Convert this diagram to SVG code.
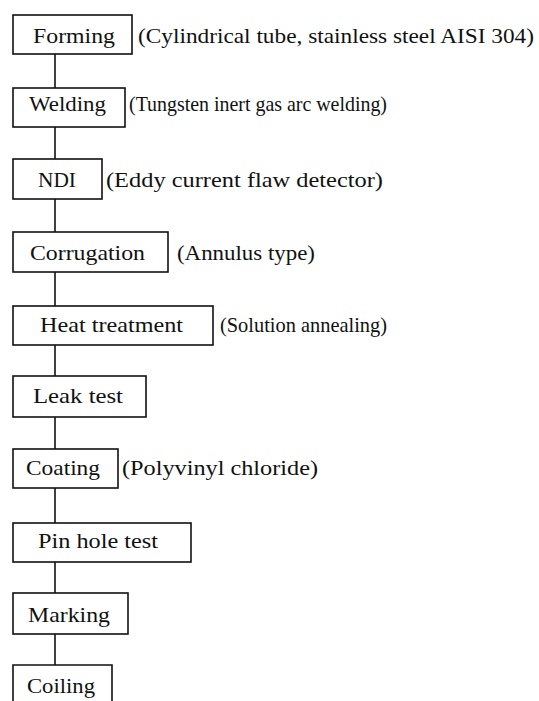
<svg xmlns="http://www.w3.org/2000/svg" width="539" height="701" viewBox="0 0 539 701">
<style>
.box{fill:#fff;stroke:#111;stroke-width:1.6}
line{stroke:#111;stroke-width:1.6}
text{font-family:"Liberation Serif","Times New Roman",serif;font-size:22px;fill:#111}
</style>
<rect width="539" height="701" fill="#fff"/>
<g id="connectors">
<line x1="55" y1="54" x2="55" y2="88"/>
<line x1="55" y1="127" x2="55" y2="159"/>
<line x1="55" y1="199" x2="55" y2="232"/>
<line x1="55" y1="272" x2="55" y2="306"/>
<line x1="55" y1="345" x2="55" y2="376"/>
<line x1="55" y1="417" x2="55" y2="449"/>
<line x1="55" y1="488" x2="55" y2="523"/>
<line x1="55" y1="562" x2="55" y2="593"/>
<line x1="55" y1="634" x2="55" y2="665"/>
</g>
<g id="forming">
<rect class="box" x="13" y="15" width="119" height="39"/>
<text x="33" y="43" textLength="82" lengthAdjust="spacingAndGlyphs">Forming</text>
<text x="138" y="43" textLength="396" lengthAdjust="spacingAndGlyphs">(Cylindrical tube, stainless steel AISI 304)</text>
</g>
<g id="welding">
<rect class="box" x="13" y="88" width="112" height="39"/>
<text x="29" y="111" textLength="77" lengthAdjust="spacingAndGlyphs">Welding</text>
<text x="129" y="111" textLength="258" lengthAdjust="spacingAndGlyphs">(Tungsten inert gas arc welding)</text>
</g>
<g id="ndi">
<rect class="box" x="13" y="159" width="89" height="40"/>
<text x="38" y="187" textLength="38" lengthAdjust="spacingAndGlyphs">NDI</text>
<text x="106" y="187" textLength="277" lengthAdjust="spacingAndGlyphs">(Eddy current flaw detector)</text>
</g>
<g id="corrugation">
<rect class="box" x="13" y="232" width="155" height="40"/>
<text x="30" y="260" textLength="115" lengthAdjust="spacingAndGlyphs">Corrugation</text>
<text x="177" y="260" textLength="138" lengthAdjust="spacingAndGlyphs">(Annulus type)</text>
</g>
<g id="heat-treatment">
<rect class="box" x="13" y="306" width="200" height="39"/>
<text x="40" y="332" textLength="143" lengthAdjust="spacingAndGlyphs">Heat treatment</text>
<text x="220" y="332" textLength="167" lengthAdjust="spacingAndGlyphs">(Solution annealing)</text>
</g>
<g id="leak-test">
<rect class="box" x="13" y="376" width="133" height="41"/>
<text x="33" y="403" textLength="90" lengthAdjust="spacingAndGlyphs">Leak test</text>
</g>
<g id="coating">
<rect class="box" x="13" y="449" width="105" height="39"/>
<text x="26" y="475" textLength="74" lengthAdjust="spacingAndGlyphs">Coating</text>
<text x="122" y="475" textLength="196" lengthAdjust="spacingAndGlyphs">(Polyvinyl chloride)</text>
</g>
<g id="pin-hole-test">
<rect class="box" x="13" y="523" width="178" height="39"/>
<text x="38" y="548" textLength="120" lengthAdjust="spacingAndGlyphs">Pin hole test</text>
</g>
<g id="marking">
<rect class="box" x="13" y="593" width="115" height="41"/>
<text x="28" y="622" textLength="82" lengthAdjust="spacingAndGlyphs">Marking</text>
</g>
<g id="coiling">
<path class="box" d="M13 705 V665 H112 V705"/>
<text x="27" y="693" textLength="68" lengthAdjust="spacingAndGlyphs">Coiling</text>
</g>
</svg>
